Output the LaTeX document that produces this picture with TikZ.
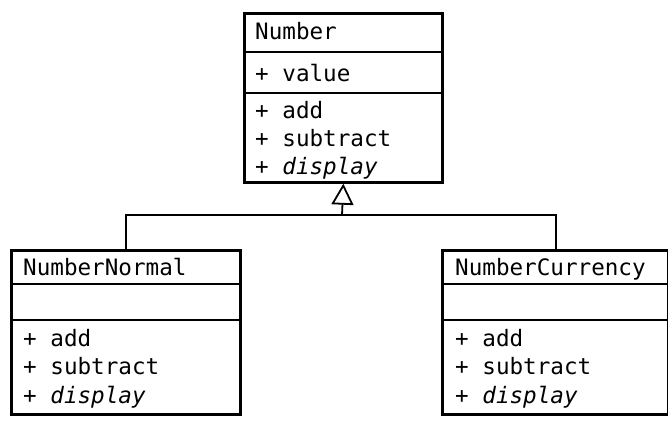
\documentclass[tikz,border=0pt]{standalone}
\usepackage{fontspec}
\setmonofont{DejaVu Sans Mono}
\usetikzlibrary{arrows.meta}
\begin{document}
\begin{tikzpicture}[x=1pt,y=-1pt,
  umlbox/.style={draw,line width=2.7pt,anchor=north west,inner sep=0pt},
  txt/.style={anchor=base west,inner sep=0pt,font=\ttfamily\fontsize{22.6}{25}\selectfont},
  divider/.style={line width=2.7pt},
  conn/.style={line width=1.8pt},
  inherit/.style={-{Triangle[open,width=22pt,length=21pt,line width=1.8pt]}}]
\useasboundingbox (0,0) rectangle (668,429);
% Number
\node[umlbox,minimum width=198pt,minimum height=169pt] (number) at (243,12) {};
\draw[divider] (243,52) -- (441,52);
\draw[divider] (243,93) -- (441,93);
\node[txt] (n1) at (255,39) {Number};
\node[txt] (n2) at (255,81) {+ value};
\node[txt] (n3) at (255,118) {+ add};
\node[txt] (n4) at (255,146) {+ subtract};
\node[txt] (n5) at (255,174) {+ \textit{display}};
% NumberNormal
\node[umlbox,minimum width=229pt,minimum height=164pt] (normal) at (10,249) {};
\draw[divider] (10,284) -- (239,284);
\draw[divider] (10,320) -- (239,320);
\node[txt] (a1) at (23,275) {NumberNormal};
\node[txt] (a2) at (23,346) {+ add};
\node[txt] (a3) at (23,374) {+ subtract};
\node[txt] (a4) at (23,403) {+ \textit{display}};
% NumberCurrency
\node[umlbox,minimum width=226pt,minimum height=164pt] (currency) at (441,249) {};
\draw[divider] (441,284) -- (667,284);
\draw[divider] (441,320) -- (667,320);
\node[txt] (b1) at (455,275) {NumberCurrency};
\node[txt] (b2) at (455,346) {+ add};
\node[txt] (b3) at (455,374) {+ subtract};
\node[txt] (b4) at (455,403) {+ \textit{display}};
% connectors
\coordinate (junc) at (342,215);
\draw[conn] (normal.north) |- (junc) -| (556,249);
\draw[conn,inherit] (junc) -- (number.south);
\end{tikzpicture}
\end{document}
